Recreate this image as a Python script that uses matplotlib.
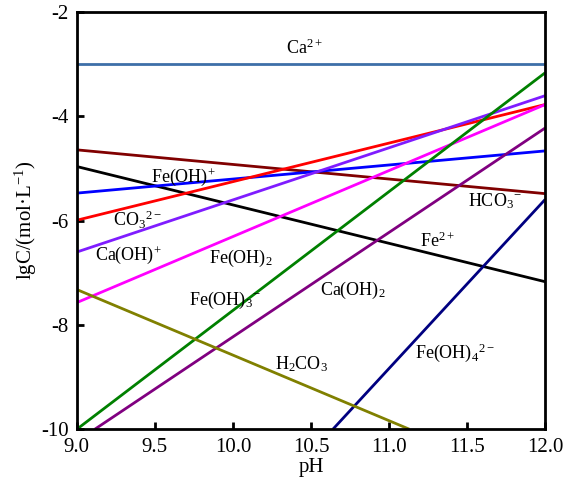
import matplotlib
matplotlib.use("Agg")
import matplotlib.pyplot as plt

plt.rcParams['font.family'] = ['Liberation Serif', 'DejaVu Serif']
plt.rcParams['mathtext.fontset'] = 'custom'
plt.rcParams['mathtext.rm'] = 'Liberation Serif'
plt.rcParams['mathtext.it'] = 'Liberation Serif:italic'

# species lines: (pH start, lgC start), (pH end, lgC end)
names = ['Ca2+', 'HCO3-', 'Fe2+', 'FeOH+', 'CO32-', 'CaOH+', 'FeOH2',
         'FeOH3-', 'CaOH2', 'FeOH42-', 'H2CO3']
ph_start = [9.0, 9.0, 9.0, 9.0, 9.0, 9.0, 9.0, 9.0, 9.115, 10.64, 9.0]
ph_end = [12.0, 12.0, 12.0, 12.0, 12.0, 12.0, 12.0, 12.0, 12.0, 12.0, 11.13]
lg_start = [-3.0, -4.64, -4.96, -5.47, -5.99, -6.6, -7.57, -10.0, -10.0, -10.0, -7.32]
lg_end = [-3.0, -5.48, -7.17, -4.66, -3.77, -3.6, -3.77, -3.16, -4.22, -5.59, -10.0]
colors = ['#3d6fa8', '#800000', 'black', 'blue', 'red', '#7f1cff', '#ff00ff',
          'green', '#800080', '#000080', '#808000']

label_text = ['Ca$^{2+}$', 'HCO$_3$$^{-}$', 'Fe$^{2+}$', 'Fe(OH)$^{+}$',
              'CO$_3$$^{2-}$', 'Ca(OH)$^{+}$', 'Fe(OH)$_2$', 'Fe(OH)$_3$$^{-}$',
              'Ca(OH)$_2$', 'Fe(OH)$_4$$^{2-}$', 'H$_2$CO$_3$']
label_x = [10.46, 11.68, 11.31, 9.68, 9.39, 9.33, 10.05, 9.95, 10.77, 11.42, 10.44]
label_y = [-2.70, -5.62, -6.40, -5.16, -5.99, -6.66, -6.72, -7.53, -7.34, -8.53, -8.76]

fig = plt.figure(figsize=(5.65, 4.9), dpi=100)
ax = fig.add_axes([0.136, 0.124, 0.829, 0.851])

for i in range(len(names)):
    ax.plot([ph_start[i], ph_end[i]], [lg_start[i], lg_end[i]],
            color=colors[i], lw=2, solid_capstyle='butt')
    ax.text(label_x[i], label_y[i], label_text[i], fontsize=13,
            ha='center', va='center')

ax.set_xlim(9.0, 12.0)
ax.set_ylim(-10, -2)
ax.set_xticks([9.0, 9.5, 10.0, 10.5, 11.0, 11.5, 12.0])
ax.set_xticklabels(['9.0', '9.5', '10.0', '10.5', '11.0', '11.5', '12.0'])
ax.set_yticks([-10, -8, -6, -4, -2])
ax.set_yticklabels(['-10', '-8', '-6', '-4', '-2'])
ax.tick_params(direction='in', width=2, length=5, labelsize=15)
ax.tick_params(axis='x', pad=6)
ax.tick_params(axis='y', pad=6)
for s in ax.spines.values():
    s.set_linewidth(2)
ax.set_xlabel('pH', fontsize=15, labelpad=1)
ax.set_ylabel('lgC/(mol·L$^{-1}$)', fontsize=15, labelpad=1)

fig.savefig('out.png', dpi=100)
